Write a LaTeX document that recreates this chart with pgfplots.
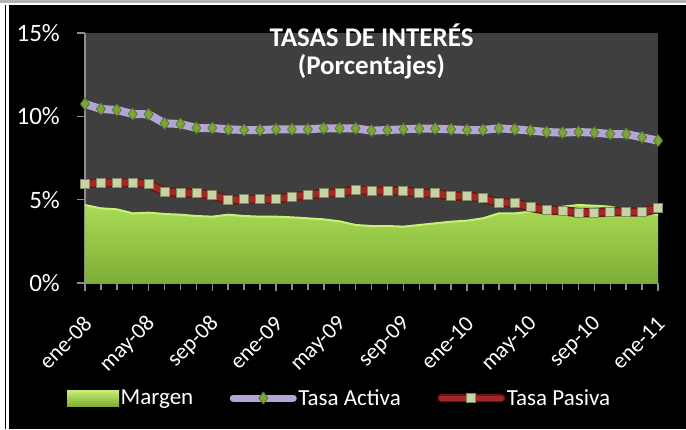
\documentclass[border=0pt]{standalone}
\usepackage{fontspec}
\setmainfont{Carlito}
\usepackage{pgfplots}
\usepackage{pgfplotstable}
\pgfplotsset{compat=1.18}

\definecolor{plotbg}{HTML}{3F3F3F}
\definecolor{axisgray}{HTML}{8C8C8C}
\definecolor{activa}{HTML}{B4A5D5}
\definecolor{activamk}{HTML}{7CA33C}
\definecolor{activamkd}{HTML}{557A25}
\definecolor{pasiva}{HTML}{A32727}
\definecolor{pasivad}{HTML}{6E1414}
\definecolor{pasivamk}{HTML}{C7D3A6}
\definecolor{pasivamkd}{HTML}{7F8E5E}
\definecolor{margtop}{HTML}{A8DB55}
\definecolor{margbot}{HTML}{7EAE36}
\definecolor{margrim}{HTML}{C9EF77}

% mes (0 = ene-08), margen, tasa activa, tasa pasiva (%)
\pgfplotstableread{
i  margen activa pasiva
0  4.68  10.74  5.94
1  4.48  10.44  6.02
2  4.42  10.38  6.02
3  4.18  10.14  6.02
4  4.22  10.12  5.94
5  4.14  9.58   5.48
6  4.10  9.54   5.42
7  4.02  9.30   5.38
8  3.98  9.30   5.28
9  4.10  9.22   4.98
10 4.02  9.18   5.02
11 3.98  9.18   5.02
12 3.98  9.22   5.02
13 3.94  9.22   5.18
14 3.88  9.22   5.28
15 3.82  9.28   5.38
16 3.70  9.28   5.42
17 3.48  9.28   5.58
18 3.42  9.14   5.54
19 3.42  9.18   5.52
20 3.38  9.22   5.54
21 3.48  9.26   5.38
22 3.58  9.26   5.38
23 3.68  9.22   5.22
24 3.74  9.18   5.22
25 3.88  9.18   5.08
26 4.18  9.28   4.82
27 4.18  9.22   4.82
28 4.28  9.14   4.54
29 4.34  9.06   4.38
30 4.58  9.02   4.34
31 4.68  9.06   4.22
32 4.64  9.02   4.22
33 4.58  8.94   4.28
34 4.38  8.94   4.28
35 4.28  8.74   4.26
36 4.08  8.54   4.48
}\datos

\begin{document}
\begin{tikzpicture}[x=1pt,y=1pt]
\useasboundingbox (0,0) rectangle (686,429);
\fill[white] (0,0) rectangle (686,429);
\fill[gray!60] (0,426) rectangle (686,429);
\fill[black] (9,0) rectangle (686,424);
\fill[black] (4.5,0) rectangle (6,424);
\begin{axis}[
  at={(85pt,146pt)}, anchor=south west,
  scale only axis, width=573pt, height=250pt,
  xmin=0, xmax=36, ymin=0, ymax=15,
  clip=false,
  axis background/.style={fill=plotbg},
  axis lines=left,
  axis line style={-, draw=axisgray, line width=1.5pt},
  tick align=outside,
  tick style={draw=axisgray, line width=1.5pt},
  major tick length=8pt, minor tick length=7pt,
  xtick={0,4,...,36},
  minor xtick={0,1,...,36},
  xticklabels={ene-08,may-08,sep-08,ene-09,may-09,sep-09,ene-10,may-10,sep-10,ene-11},
  ytick={0,5,10,15},
  yticklabels={0\%,5\%,10\%,15\%},
  xticklabel style={xshift=3pt, rotate=45, anchor=east, inner sep=0pt, text=white,
    font=\fontsize{22.5}{26}\selectfont},
  xticklabel shift=29pt,
  yticklabel style={anchor=east, inner sep=0pt, text=white,
    font=\fontsize{25}{30}\selectfont},
  yticklabel shift=17pt,
  legend columns=3,
  legend style={at={(-0.0314,-0.46)}, anchor=west, draw=none, fill=none,
    text=white, font=\fontsize{23}{27}\selectfont, inner sep=0pt,
    nodes={inner xsep=1.5pt, inner ysep=0pt},
    /tikz/every even column/.append style={column sep=35pt}},
  legend cell align=left,
]
\addplot[draw=none, top color=margtop, bottom color=margbot,
  legend image code/.code={\fill[top color=margrim, bottom color=margbot]
    (0pt,-8pt) rectangle (52pt,8pt);}]
  table[x=i, y=margen]{\datos} \closedcycle;
\addlegendentry{Margen}
\addplot[forget plot, margrim, line width=2pt] table[x=i, y=margen]{\datos};

\addplot[activa, line width=8pt, line cap=round, line join=round,
  mark=diamond*, mark size=6pt,
  mark options={fill=activamk, draw=activamkd, line width=0.8pt},
  legend image code/.code={
    \draw[activa, line width=7pt, line cap=round] (0pt,0pt) -- (60pt,0pt);
    \draw[fill=activamk, draw=activamkd, line width=0.8pt]
      (30pt,6pt) -- (34.5pt,0pt) -- (30pt,-6pt) -- (25.5pt,0pt) -- cycle;}]
  table[x=i, y=activa]{\datos};
\addlegendentry{Tasa Activa}

\addplot[forget plot, pasivad, line width=9.5pt, line join=round]
  table[x=i, y=pasiva]{\datos};
\addplot[pasiva, line width=6.5pt, line cap=round, line join=round,
  mark=square*, mark size=4.5pt,
  mark options={fill=pasivamk, draw=pasivamkd, line width=0.8pt},
  legend image code/.code={
    \draw[pasivad, line width=8pt, line cap=round] (0pt,0pt) -- (60pt,0pt);
    \draw[pasiva, line width=5pt, line cap=round] (0pt,0pt) -- (60pt,0pt);
    \draw[fill=pasivamk, draw=pasivamkd, line width=0.8pt]
      (25.5pt,-4.5pt) rectangle (34.5pt,4.5pt);}]
  table[x=i, y=pasiva]{\datos};
\addlegendentry{Tasa Pasiva}
\end{axis}
\node[anchor=base, text=white, font=\bfseries\fontsize{27}{32}\selectfont]
  at (371.5,382) {TASAS DE INTERÉS};
\node[anchor=base, text=white, font=\bfseries\fontsize{27}{32}\selectfont]
  at (371.5,354) {(Porcentajes)};
\end{tikzpicture}
\end{document}
